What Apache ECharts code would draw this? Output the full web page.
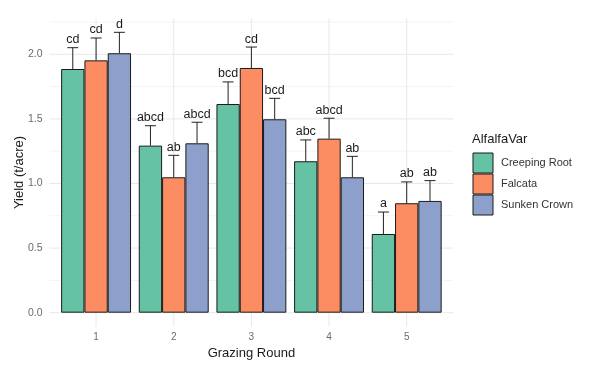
<!DOCTYPE html>
<html><head><meta charset="utf-8">
<script src="https://cdn.jsdelivr.net/npm/echarts@6/dist/echarts.min.js"></script>
<style>html,body{margin:0;padding:0;background:#fff}#c{width:600px;height:372px}</style>
</head><body><div id="c"></div>
<script>
// ---- data ----
const rounds = [1, 2, 3, 4, 5];
const varieties = ['Creeping Root', 'Falcata', 'Sunken Crown'];
const creepingRoot = [1.886, 1.293, 1.615, 1.172, 0.609];
const falcata      = [1.953, 1.048, 1.894, 1.347, 0.847];
const sunkenCrown  = [2.008, 1.311, 1.497, 1.048, 0.865];
const creepingRootSE = [0.165, 0.154, 0.171, 0.165, 0.170];
const falcataSE      = [0.173, 0.170, 0.162, 0.158, 0.165];
const sunkenCrownSE  = [0.162, 0.163, 0.162, 0.162, 0.157];
const creepingRootLetters = ['cd', 'abcd', 'bcd', 'abc', 'a'];
const falcataLetters      = ['cd', 'ab', 'cd', 'abcd', 'ab'];
const sunkenCrownLetters  = ['d', 'abcd', 'bcd', 'ab', 'ab'];
const yMajorTicks = [0, 0.5, 1, 1.5, 2];
const yMinorTicks = [0.25, 0.75, 1.25, 1.75, 2.25];
const xTicks = [1, 2, 3, 4, 5];

// ---- styles ----
const colors = ['#66C2A5', '#FC8D62', '#8DA0CB'];
const means = [creepingRoot, falcata, sunkenCrown];
const ses = [creepingRootSE, falcataSE, sunkenCrownSE];
const letters = [creepingRootLetters, falcataLetters, sunkenCrownLetters];
const dodge = 0.3;          // dodge step in x data units (0.9 / 3)
const FONT = 'Liberation Sans, Arial, sans-serif';

const chart = echarts.init(document.getElementById('c'), null, {renderer: 'canvas'});

function hGrid(vals, color) {
  return {
    type: 'custom', silent: true, z: 0,
    data: vals.map(v => [xTicks[0], v]),
    renderItem(params, api) {
      const cs = params.coordSys;
      const y = api.coord([api.value(0), api.value(1)])[1];
      return {type: 'line', shape: {x1: cs.x, y1: y, x2: cs.x + cs.width, y2: y},
              style: {stroke: color, lineWidth: 1}};
    }
  };
}
function vGrid(vals, color) {
  return {
    type: 'custom', silent: true, z: 0,
    data: vals.map(v => [v, 0]),
    renderItem(params, api) {
      const cs = params.coordSys;
      const x = api.coord([api.value(0), 0])[0];
      return {type: 'line', shape: {x1: x, y1: cs.y, x2: x, y2: cs.y + cs.height},
              style: {stroke: color, lineWidth: 1}};
    }
  };
}

const series = [
  hGrid(yMinorTicks, '#f3f3f3'),
  hGrid(yMajorTicks, '#e8e8e8'),
  vGrid(xTicks, '#e8e8e8')
];
varieties.forEach((name, i) => {
  series.push({
    name, type: 'bar', z: 2,
    barWidth: 23.3, barGap: '0%',
    itemStyle: {color: colors[i], borderColor: '#1a1a1a', borderWidth: 1},
    data: rounds.map((r, k) => [r, means[i][k]])
  });
});
varieties.forEach((name, i) => {
  series.push({
    type: 'custom', z: 5, silent: true,
    data: rounds.map((r, k) => [r + (i - 1) * dodge, means[i][k], ses[i][k]]),
    renderItem(params, api) {
      const x = api.value(0);
      const base = api.coord([x, api.value(1)]);
      const top = api.coord([x, api.value(1) + api.value(2)]);
      return {type: 'group', children: [
        {type: 'line', shape: {x1: base[0], y1: base[1], x2: top[0], y2: top[1]},
         style: {stroke: '#222', lineWidth: 1}},
        {type: 'line', shape: {x1: top[0] - 5.5, y1: top[1], x2: top[0] + 5.5, y2: top[1]},
         style: {stroke: '#222', lineWidth: 1}},
        {type: 'text', x: top[0], y: top[1] - 8,
         style: {text: letters[i][params.dataIndex], align: 'center', verticalAlign: 'middle',
                 font: '12.5px ' + FONT, fill: '#1a1a1a'}}
      ]};
    }
  });
});

chart.setOption({
  animation: false,
  backgroundColor: '#ffffff',
  title: {
    text: 'AlfalfaVar', left: 472, top: 133, padding: 0,
    textStyle: {fontFamily: FONT, fontSize: 13, fontWeight: 'normal', color: '#1a1a1a'}
  },
  legend: {
    data: varieties, orient: 'vertical', left: 472.5, top: 152.5, padding: 0,
    itemWidth: 20, itemHeight: 20, itemGap: 0, icon: 'rect',
    itemStyle: {borderColor: '#1a1a1a', borderWidth: 1},
    textStyle: {fontFamily: FONT, fontSize: 11, color: '#333', padding: [0, 0, 0, 3]}
  },
  grid: {left: 49.5, right: 146.7, top: 18.3, bottom: 45.3, containLabel: false, outerBoundsMode: 'none'},
  xAxis: {
    type: 'value', min: 0.4, max: 5.6,
    name: 'Grazing Round', nameLocation: 'middle', nameGap: 20, nameMoveOverlap: false,
    nameTextStyle: {fontFamily: FONT, fontSize: 13, color: '#1a1a1a'},
    axisLine: {show: false}, axisTick: {show: false}, splitLine: {show: false},
    axisLabel: {customValues: xTicks, margin: 6, fontFamily: FONT, fontSize: 10, color: '#6b6b6b'}
  },
  yAxis: {
    type: 'value', min: -0.1085, max: 2.2785,
    name: 'Yield (t/acre)', nameLocation: 'middle', nameGap: 24, nameRotate: 90, nameMoveOverlap: false,
    nameTextStyle: {fontFamily: FONT, fontSize: 13, color: '#1a1a1a'},
    axisLine: {show: false}, axisTick: {show: false}, splitLine: {show: false},
    axisLabel: {customValues: yMajorTicks, margin: 7, fontFamily: FONT, fontSize: 10.5, color: '#6b6b6b',
                formatter: v => v.toFixed(1)}
  },
  series
});
</script></body></html>
